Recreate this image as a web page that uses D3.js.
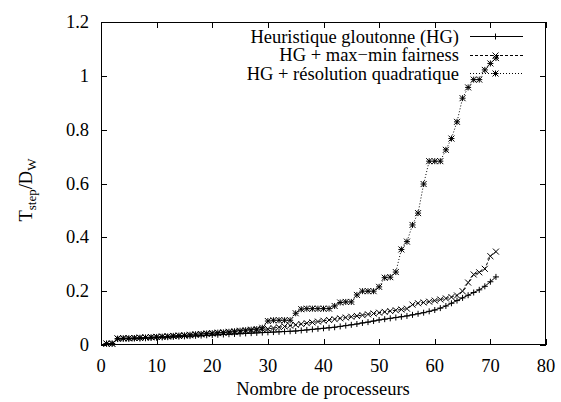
<!DOCTYPE html>
<html><head><meta charset="utf-8">
<script src="https://cdn.jsdelivr.net/npm/d3@7"></script>
<style>body{margin:0;background:#fff}svg{display:block}svg text{font-family:"Times New Roman",Times,"Liberation Serif",Tinos,"Nimbus Roman","Noto Serif","DejaVu Serif",serif}</style>
</head><body><svg id="c" width="561" height="402"></svg>
<script>
const seriesNames = ["Heuristique gloutonne (HG)", "HG + max\u2212min fairness", "HG + résolution quadratique"];
const xTicks = [0,10,20,30,40,50,60,70,80];
const yTicks = [0,0.2,0.4,0.6,0.8,1,1.2];
const yTickLabels = ["0","0.2","0.4","0.6","0.8","1","1.2"];
const processors = d3.range(1,72);
const hg = [0.005,0.005,0.022,0.023,0.023,0.024,0.024,0.025,0.026,0.027,0.028,0.029,0.030,0.031,0.032,0.033,0.034,0.035,0.036,0.037,0.038,0.039,0.040,0.041,0.042,0.043,0.044,0.045,0.046,0.047,0.048,0.049,0.050,0.051,0.052,0.054,0.056,0.058,0.060,0.062,0.064,0.066,0.069,0.072,0.075,0.078,0.082,0.085,0.089,0.093,0.096,0.099,0.102,0.105,0.108,0.112,0.116,0.120,0.125,0.130,0.137,0.145,0.155,0.165,0.175,0.185,0.195,0.205,0.218,0.235,0.253];
const maxmin = [0.005,0.005,0.024,0.025,0.025,0.026,0.027,0.028,0.029,0.030,0.031,0.032,0.033,0.034,0.035,0.036,0.038,0.039,0.041,0.043,0.044,0.045,0.047,0.048,0.050,0.052,0.054,0.056,0.058,0.060,0.063,0.066,0.069,0.072,0.075,0.078,0.081,0.084,0.087,0.090,0.093,0.096,0.099,0.102,0.105,0.108,0.111,0.114,0.117,0.120,0.123,0.126,0.129,0.132,0.135,0.150,0.155,0.158,0.161,0.165,0.169,0.173,0.178,0.184,0.200,0.232,0.262,0.270,0.283,0.330,0.347];
const quad = [0.005,0.005,0.024,0.025,0.025,0.026,0.027,0.028,0.029,0.030,0.031,0.032,0.034,0.035,0.036,0.038,0.040,0.041,0.043,0.044,0.046,0.047,0.049,0.051,0.053,0.055,0.057,0.059,0.064,0.089,0.092,0.092,0.092,0.092,0.118,0.133,0.135,0.135,0.135,0.135,0.135,0.145,0.158,0.160,0.160,0.186,0.200,0.200,0.200,0.216,0.250,0.252,0.271,0.355,0.384,0.446,0.490,0.598,0.683,0.683,0.683,0.725,0.767,0.829,0.917,0.957,0.986,0.986,1.022,1.046,1.066];

const svg = d3.select("#c");
const L=101, R=546, T=22, B=345;
const x = d3.scaleLinear().domain([0,80]).range([L,R]);
const y = d3.scaleLinear().domain([0,1.2]).range([B,T]);
const tl = 6;
const FS = 18.5;

const axes = svg.append("g").attr("stroke","#000").attr("stroke-width",1).attr("fill","none");
axes.append("rect").attr("x",L+0.5).attr("y",T+0.5).attr("width",R-L-1).attr("height",B-T-1);
xTicks.forEach(v=>{
  const px=Math.round(x(v))+0.5;
  axes.append("line").attr("x1",px).attr("x2",px).attr("y1",B).attr("y2",B-tl);
  axes.append("line").attr("x1",px).attr("x2",px).attr("y1",T).attr("y2",T+tl);
  svg.append("text").attr("x",x(v)).attr("y",372).attr("text-anchor","middle").attr("font-size",FS).text(v);
});
yTicks.forEach((v,i)=>{
  const py=Math.round(y(v))+0.5;
  axes.append("line").attr("x1",L).attr("x2",L+tl).attr("y1",py).attr("y2",py);
  axes.append("line").attr("x1",R).attr("x2",R-tl).attr("y1",py).attr("y2",py);
  svg.append("text").attr("x",L-12).attr("y",y(v)+6).attr("text-anchor","end").attr("font-size",FS).text(yTickLabels[i]);
});

svg.append("text").attr("x",323).attr("y",395).attr("text-anchor","middle").attr("font-size",FS).text("Nombre de processeurs");
const yl = svg.append("text").attr("transform","translate(32,190) rotate(-90)").attr("text-anchor","middle").attr("font-size",FS);
yl.append("tspan").text("T");
yl.append("tspan").attr("font-size",13).attr("dy",4).text("step");
yl.append("tspan").attr("dy",-4).text("/D");
yl.append("tspan").attr("font-size",13).attr("dy",4).text("W");

function marker(g, type, cx, cy){
  const s=3;
  const p=[];
  if(type==="plus"||type==="star"){p.push(`M${cx-s},${cy}H${cx+s}M${cx},${cy-s}V${cy+s}`);}
  if(type==="cross"||type==="star"){p.push(`M${cx-s},${cy-s}L${cx+s},${cy+s}M${cx-s},${cy+s}L${cx+s},${cy-s}`);}
  g.append("path").attr("d",p.join("")).attr("stroke","#000").attr("stroke-width",1).attr("fill","none");
}
const defs=[{vals:hg,type:"plus",dash:null},{vals:maxmin,type:"cross",dash:"3,2"},{vals:quad,type:"star",dash:"1,2"}];
const line = d3.line().x(d=>x(d[0])).y(d=>y(d[1]));
defs.forEach((s,k)=>{
  const data = processors.map((p,i)=>[p,s.vals[i]]);
  const g = svg.append("g");
  g.append("path").attr("d",line(data)).attr("fill","none").attr("stroke","#000").attr("stroke-width",1).attr("stroke-dasharray",s.dash);
  data.forEach(d=>marker(g,s.type,x(d[0]),y(d[1])));
  const ly = 36 + k*18.5;
  svg.append("text").attr("x",459).attr("y",ly+6.5).attr("text-anchor","end").attr("font-size",FS).text(seriesNames[k]);
  g.append("line").attr("x1",470).attr("x2",523).attr("y1",Math.round(ly)+0.5).attr("y2",Math.round(ly)+0.5).attr("stroke","#000").attr("stroke-dasharray",s.dash);
  marker(g,s.type,495.5,Math.round(ly)+0.5);
});
</script></body></html>
